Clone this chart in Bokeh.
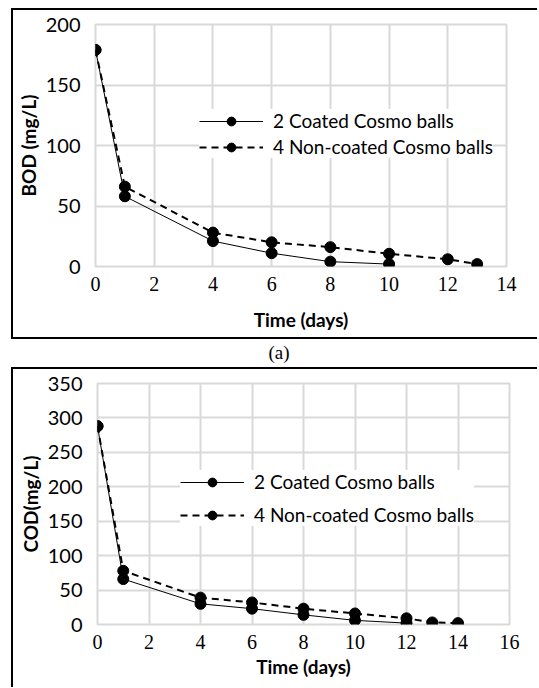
from bokeh.plotting import figure
from bokeh.models import Range1d, FixedTicker, Div, Spacer
from bokeh.layouts import column, row
from bokeh.embed import file_html
from bokeh.resources import INLINE

# ---------------- data ----------------
series_labels = ["2 Coated Cosmo balls", "4 Non-coated Cosmo balls"]

bod_days_coated = [0, 1, 4, 6, 8, 10]
bod_coated = [179, 58, 21, 11, 4, 2]
bod_days_noncoated = [0, 1, 4, 6, 8, 10, 12, 13]
bod_noncoated = [179, 66, 28, 20, 16, 10.5, 6, 2]

cod_days_coated = [0, 1, 4, 6, 8, 10, 12]
cod_coated = [288, 66, 30, 23, 14, 6, 2]
cod_days_noncoated = [0, 1, 4, 6, 8, 10, 12, 13, 14]
cod_noncoated = [288, 78, 39, 32, 23, 16, 9, 3, 2]

bod_xticks = [0, 2, 4, 6, 8, 10, 12, 14]
bod_yticks = [0, 50, 100, 150, 200]
cod_xticks = [0, 2, 4, 6, 8, 10, 12, 14, 16]
cod_yticks = [0, 50, 100, 150, 200, 250, 300, 350]

x_title = "Time (days)"
bod_title = "BOD (mg/L)"
cod_title = "COD(mg/L)"
panel_a = "(a)"

SANS = "Lato"
SERIF = "Liberation Serif"
GRID = "#d9d9d9"


def make_chart(xc, yc, xn, yn, xticks, yticks, ytitle, frame_w, frame_h,
               mb_left, mb_right, mb_top, mb_bottom, legend_loc, legend_spacing,
               xlabel_standoff):
    p = figure(frame_width=frame_w, frame_height=frame_h,
               x_range=Range1d(xticks[0], xticks[-1]),
               y_range=Range1d(yticks[0], yticks[-1]),
               output_backend="svg", toolbar_location=None,
               min_border_left=mb_left, min_border_right=mb_right,
               min_border_top=mb_top, min_border_bottom=mb_bottom,
               background_fill_color="white", border_fill_color="white")
    p.outline_line_color = GRID
    p.outline_line_width = 2
    for g in (p.xgrid, p.ygrid):
        g.grid_line_color = GRID
        g.grid_line_width = 2
    p.xaxis.ticker = FixedTicker(ticks=xticks)
    p.yaxis.ticker = FixedTicker(ticks=yticks)
    for ax in (p.xaxis, p.yaxis):
        ax.axis_line_color = None
        ax.major_tick_line_color = None
        ax.minor_tick_line_color = None
        ax.major_tick_out = 0
        ax.major_tick_in = 0
        ax.axis_label_text_font = SANS
        ax.axis_label_text_font_style = "bold"
        ax.axis_label_text_font_size = "19px"
        ax.axis_label_text_color = "black"
        ax.major_label_text_color = "black"
    p.xaxis.major_label_text_font = SERIF
    p.xaxis.major_label_text_font_size = "20px"
    p.xaxis.major_label_standoff = 10
    p.yaxis.major_label_text_font = SANS
    p.yaxis.major_label_text_font_size = "20px"
    p.yaxis.major_label_standoff = 15
    p.xaxis.axis_label = x_title
    p.yaxis.axis_label = ytitle
    p.xaxis.axis_label_standoff = xlabel_standoff
    p.yaxis.axis_label_standoff = 3

    p.line(xc, yc, line_color="black", line_width=1, legend_label=series_labels[0])
    p.scatter(xc, yc, size=11, fill_color="black", line_color="black",
              legend_label=series_labels[0])
    p.line(xn, yn, line_color="black", line_width=2, line_dash="7 5",
           legend_label=series_labels[1])
    p.scatter(xn, yn, size=11, fill_color="black", line_color="black",
              legend_label=series_labels[1])

    lg = p.legend[0]
    lg.location = legend_loc
    lg.padding = 0
    lg.margin = 0
    lg.spacing = legend_spacing
    lg.glyph_width = 64
    lg.glyph_height = 22
    lg.label_height = 22
    lg.label_standoff = 10
    lg.label_text_font = SANS
    lg.label_text_font_size = "19px"
    lg.label_text_color = "black"
    lg.border_line_color = None
    lg.background_fill_color = "white"
    lg.background_fill_alpha = 1.0
    return p


p1 = make_chart(bod_days_coated, bod_coated, bod_days_noncoated, bod_noncoated,
                bod_xticks, bod_yticks, bod_title, 411, 242,
                82, 31, 14, 71, (104, 108), 3, 14)

p2 = make_chart(cod_days_coated, cod_coated, cod_days_noncoated, cod_noncoated,
                cod_xticks, cod_yticks, cod_title, 412, 241,
                84, 28, 14, 63, (83, 98), 10, 3)

box1 = column(p1, spacing=0,
              styles={"border-left": "2px solid black", "border-top": "2px solid black",
                      "border-bottom": "2px solid black"})
box2 = column(p2, spacing=0,
              styles={"border-left": "2px solid black", "border-top": "2px solid black"})

lab = Div(text=panel_a, width=526, height=18,
          styles={"font-family": SERIF, "font-size": "19px", "text-align": "center",
                  "line-height": "18px", "color": "black"})

stack = column(Spacer(width=1, height=8), box1, lab, box2, spacing=0)
layout = row(Spacer(width=11, height=1), stack, spacing=0)

with open("out.html", "w") as f:
    f.write(file_html(layout, INLINE))
